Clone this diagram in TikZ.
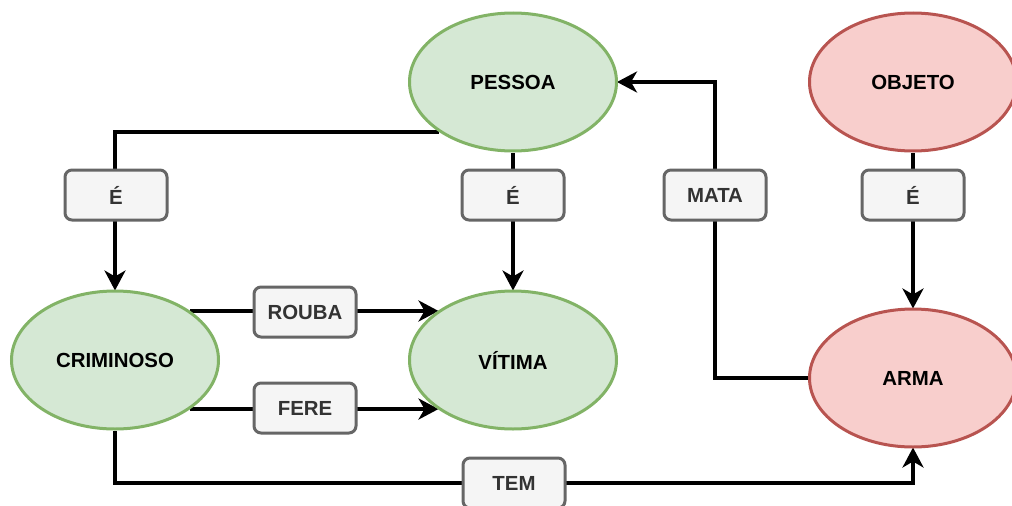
\documentclass[tikz,border=0pt]{standalone}
\usepackage{fontspec}
\setmainfont{Liberation Sans}
\usetikzlibrary{shapes.geometric,arrows.meta}
\pgfdeclarelayer{wires}
\pgfsetlayers{wires,main}
\definecolor{greenfill}{HTML}{D5E8D4}
\definecolor{greenline}{HTML}{82B366}
\definecolor{redfill}{HTML}{F8CECC}
\definecolor{redline}{HTML}{B85450}
\definecolor{tagfill}{HTML}{F5F5F5}
\definecolor{tagline}{HTML}{666666}
\definecolor{tagtext}{HTML}{333333}
\tikzset{
  concept/.style={ellipse, draw, line width=3pt, minimum width=207pt, minimum height=138pt,
    inner sep=0pt, font=\fontsize{20.4}{24}\selectfont\bfseries, text=black},
  person/.style={concept, fill=greenfill, draw=greenline},
  thing/.style={concept, fill=redfill, draw=redline},
  tag/.style={rectangle, rounded corners=7pt, draw=tagline, fill=tagfill, line width=3pt,
    minimum width=102pt, minimum height=50pt, inner sep=0pt,
    font=\fontsize{20.4}{24}\selectfont\bfseries, text=tagtext},
  link/.style={line width=3.5pt, draw=black, shorten >=-1pt,
    -{Stealth[length=20pt,width=21pt,inset=6pt]}},
  plain/.style={line width=3.5pt, draw=black}
}
\begin{document}
\begin{tikzpicture}[x=1pt,y=-1pt]
  \useasboundingbox (0,0) rectangle (1012,506);
  \clip (0,0) rectangle (1012,506);

  % concepts
  \node[person] (p) at (513,82) {PESSOA};
  \node[thing]  (o) at (913,82) {OBJETO};
  \node[person] (c) at (115,360) {CRIMINOSO};
  \node[person] (v) at (513,360) {VÍTIMA};
  \node[thing]  (a) at (913,378) {ARMA};

  % relation tags
  \node[tag] (e1) at (116,195) {É};
  \node[tag] (e2) at (513,195) {É};
  \node[tag] (mata) at (715,195) {MATA};
  \node[tag] (e3) at (913,195) {É};
  \node[tag] (rouba) at (305,312) {ROUBA};
  \node[tag] (fere) at (305,408) {FERE};
  \node[tag] (tem) at (514,483) {TEM};

  % connectors, kept beneath the shapes and tags
  \begin{pgfonlayer}{wires}
    \draw[link] (p.214) -| (c.north);
    \draw[link] (p.south) -- (v.north);
    \draw[link] (o.south) -- (a.north);
    \draw[link] (a.west) -| (mata.center) |- (p.east);
    \draw[link] (c.33) -- (v.147);
    \draw[link] (c.-33) -- (v.-147);
    \draw[link] (c.south) |- (tem.center) -| (a.south);
  \end{pgfonlayer}
\end{tikzpicture}
\end{document}
